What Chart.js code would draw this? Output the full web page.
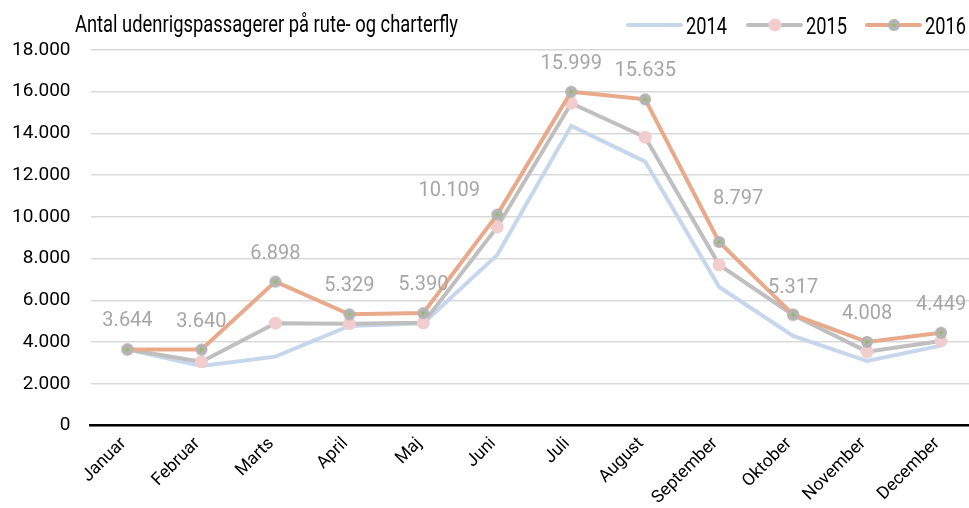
<!DOCTYPE html>
<html>
<head>
<meta charset="utf-8">
<script src="https://cdn.jsdelivr.net/npm/chart.js@4/dist/chart.umd.min.js"></script>
<style>
  html, body { margin: 0; padding: 0; background: #fff; overflow: hidden; }
  #wrap { width: 969px; height: 508px; overflow: hidden; }
</style>
</head>
<body>
<div id="wrap"><canvas id="chart" width="989" height="508"></canvas></div>
<script>
const months = ['Januar', 'Februar', 'Marts', 'April', 'Maj', 'Juni', 'Juli', 'August', 'September', 'Oktober', 'November', 'December'];
const values2014 = [3644, 2855, 3300, 4770, 4900, 8180, 14365, 12650, 6640, 4290, 3090, 3830];
const values2015 = [3644, 3060, 4905, 4880, 4920, 9520, 15450, 13820, 7700, 5300, 3540, 4050];
const values2016 = [3644, 3640, 6898, 5329, 5390, 10109, 15999, 15635, 8797, 5317, 4008, 4449];
const yTicks = [0, 2000, 4000, 6000, 8000, 10000, 12000, 14000, 16000, 18000];
const seriesNames = ['2014', '2015', '2016'];
const title = 'Antal udenrigspassagerer på rute- og charterfly';

// flytning af enkelte etiketter (px), som i originalen
const labelDx = [0, 0, 0, 0, 0, -48, 0, 0, 19, 0, 0, 0];
const labelDy = [28, 28, 28, 28, 28, 24, 28, 28, 43, 27, 28, 28];

const FONT = 'Roboto, "Open Sans", sans-serif';
const C2014 = '#c6d7ed';
const C2015 = '#bfbfbf';
const C2016 = '#e9aa8b';
const PINK = '#f2cdcd';
const MARK = '#b3b3b3';
const GREEN = '#8fbf45';

function fmt(v) {
    if (v === 0) return '0';
    const s = String(Math.round(v));
    return s.replace(/\B(?=(\d{3})+(?!\d))/g, '.');
}

// grå markør med grøn prik i midten (2016)
function makeMarker() {
    const c = document.createElement('canvas');
    c.width = 14; c.height = 14;
    const g = c.getContext('2d');
    g.fillStyle = MARK;
    g.beginPath(); g.arc(7, 7, 6, 0, Math.PI * 2); g.fill();
    g.fillStyle = GREEN;
    g.beginPath(); g.arc(7, 7, 1.6, 0, Math.PI * 2); g.fill();
    return c;
}
const marker2016 = makeMarker();

// smal tekst: skaleres vandret til en given bredde
function narrowText(ctx, text, x, y, width) {
    const w = ctx.measureText(text).width;
    ctx.save();
    ctx.translate(x, y);
    ctx.scale(width / w, 1);
    ctx.fillText(text, 0, 0);
    ctx.restore();
}

const extras = {
    id: 'extras',
    afterDatasetsDraw(chart) {
        const ctx = chart.ctx;
        ctx.save();
        // dataetiketter for 2016
        const meta = chart.getDatasetMeta(2);
        ctx.font = '20px ' + FONT;
        ctx.fillStyle = '#a6a6a6';
        ctx.textAlign = 'center';
        ctx.textBaseline = 'middle';
        meta.data.forEach((pt, i) => {
            ctx.fillText(fmt(values2016[i]), pt.x + labelDx[i], pt.y - labelDy[i]);
        });

        // titel
        ctx.fillStyle = '#000';
        ctx.textAlign = 'left';
        ctx.textBaseline = 'alphabetic';
        ctx.font = '23px ' + FONT;
        narrowText(ctx, title, 75, 31.5, 383);

        // legende
        const xs = [628, 748, 867];
        const colors = [C2014, C2015, C2016];
        const ly = 25;
        seriesNames.forEach((name, i) => {
            const x = xs[i];
            ctx.strokeStyle = colors[i];
            ctx.lineWidth = 4;
            ctx.lineCap = 'round';
            ctx.beginPath();
            ctx.moveTo(x, ly);
            ctx.lineTo(x + 53, ly);
            ctx.stroke();
            if (i === 1) {
                ctx.fillStyle = PINK;
                ctx.beginPath(); ctx.arc(x + 27, ly, 6.5, 0, Math.PI * 2); ctx.fill();
            } else if (i === 2) {
                ctx.drawImage(marker2016, x + 20, ly - 7);
            }
            ctx.fillStyle = '#000';
            ctx.font = '23px ' + FONT;
            narrowText(ctx, name, x + 58, 33.5, 41);
        });
        ctx.restore();
    }
};

new Chart(document.getElementById('chart'), {
    type: 'line',
    data: {
        labels: months,
        datasets: [
            {
                label: seriesNames[0],
                data: values2014,
                borderColor: C2014,
                borderWidth: 4,
                pointRadius: 0,
                tension: 0,
                order: 3
            },
            {
                label: seriesNames[1],
                data: values2015,
                borderColor: C2015,
                borderWidth: 4,
                pointRadius: 6.5,
                pointBackgroundColor: PINK,
                pointBorderWidth: 0,
                tension: 0,
                order: 2
            },
            {
                label: seriesNames[2],
                data: values2016,
                borderColor: C2016,
                borderWidth: 4,
                pointStyle: marker2016,
                pointRadius: 7,
                tension: 0,
                order: 1
            }
        ]
    },
    options: {
        responsive: false,
        animation: false,
        layout: { padding: { top: 50, left: 0, right: 0, bottom: 0 } },
        plugins: {
            legend: { display: false },
            tooltip: { enabled: false }
        },
        scales: {
            x: {
                offset: true,
                grid: { display: false, drawTicks: false },
                border: { display: true, color: '#000', width: 2.5 },
                ticks: {
                    color: '#000',
                    font: { family: FONT, size: 17.5 },
                    minRotation: 45,
                    maxRotation: 45,
                    padding: 8,
                    labelOffset: -4,
                    autoSkip: false
                },
                afterFit(scale) { scale.height = 82.5; }
            },
            y: {
                min: 0,
                max: 18000,
                afterBuildTicks(scale) {
                    scale.ticks = yTicks.map(v => ({ value: v }));
                },
                grid: { color: '#d9d9d9', lineWidth: 1.5, drawTicks: false },
                border: { display: false },
                ticks: {
                    color: '#000',
                    font: { family: FONT, size: 19 },
                    padding: 20,
                    callback: v => fmt(v)
                },
                afterFit(scale) { scale.width = 90.5; }
            }
        }
    },
    plugins: [extras]
});
</script>
</body>
</html>
